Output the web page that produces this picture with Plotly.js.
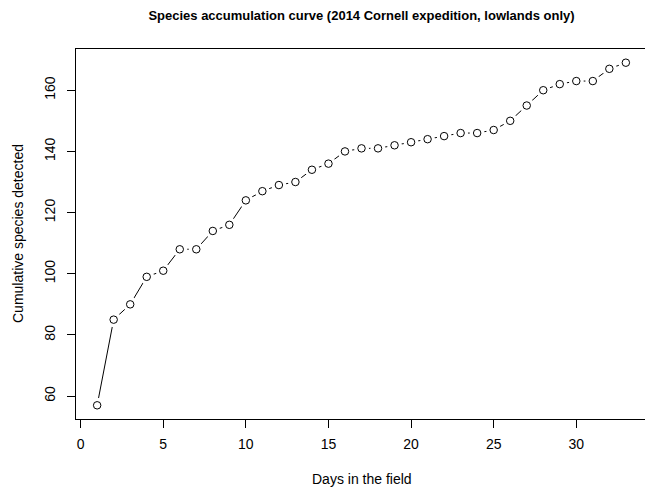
<!DOCTYPE html>
<html>
<head>
<meta charset="utf-8">
<script src="https://cdn.plot.ly/plotly-3.0.1.min.js"></script>
<style>
html,body{margin:0;padding:0;overflow:hidden;background:#fff;width:645px;height:488px;}
#chart{width:660px;height:488px;}
</style>
</head>
<body>
<div id="chart"></div>
<script>
const days = [1,2,3,4,5,6,7,8,9,10,11,12,13,14,15,16,17,18,19,20,21,22,23,24,25,26,27,28,29,30,31,32,33];
const species = [57,85,90,99,101,108,108,114,116,124,127,129,130,134,136,140,141,141,142,143,144,145,146,146,147,150,155,160,162,163,163,167,169];
const xTicks = [0,5,10,15,20,25,30];
const yTicks = [60,80,100,120,140,160];

const FONT = "Liberation Sans, Arial, Helvetica, sans-serif";

const traces = [
  {x: days, y: species, mode: 'lines', line: {color: '#000', width: 1}, hoverinfo: 'skip', cliponaxis: false},
  {x: days, y: species, mode: 'markers', marker: {symbol: 'circle', size: 15, color: '#fff', line: {width: 0}}, hoverinfo: 'skip', cliponaxis: false},
  {x: days, y: species, mode: 'markers', marker: {symbol: 'circle-open', size: 7.5, color: '#000', line: {width: 1, color: '#000'}}, cliponaxis: false}
];

const layout = {
  width: 660, height: 488,
  margin: {l: 76, r: 13, t: 49, b: 69, pad: 0},
  paper_bgcolor: '#fff', plot_bgcolor: '#fff',
  showlegend: false,
  font: {family: FONT, color: '#000', size: 13},
  title: {text: 'Species accumulation curve (2014 Cornell expedition, lowlands only)',
          font: {family: FONT, size: 13, weight: 'bold', color: '#000'},
          xref: 'paper', x: 0.5, xanchor: 'center', yref: 'container', y: 1 - 15/488, yanchor: 'middle'},
  xaxis: {
    range: [-0.28, 34.28], tickvals: xTicks, ticktext: xTicks.map(String),
    showgrid: false, zeroline: false, showline: true, mirror: true, linecolor: '#000', linewidth: 1,
    ticks: 'outside', ticklen: 8, tickwidth: 1, tickcolor: '#000',
    tickfont: {family: FONT, size: 14, color: '#000'}, ticklabelstandoff: 4
  },
  yaxis: {
    range: [52.52, 173.48], tickvals: yTicks, ticktext: yTicks.map(String),
    showgrid: false, zeroline: false, showline: true, mirror: true, linecolor: '#000', linewidth: 1,
    ticks: 'outside', ticklen: 8, tickwidth: 1, tickcolor: '#000', tickangle: -90,
    tickfont: {family: FONT, size: 14, color: '#000'}, ticklabelstandoff: 6
  },
  annotations: [
    {text: 'Days in the field', xref: 'paper', yref: 'paper', x: 0.5, y: 0, xanchor: 'center', yanchor: 'middle',
     yshift: -60, showarrow: false, font: {family: FONT, size: 14, color: '#000'}},
    {text: 'Cumulative species detected', xref: 'paper', yref: 'paper', x: 0, y: 0.5, xanchor: 'center', yanchor: 'middle',
     xshift: -58, textangle: -90, showarrow: false, font: {family: FONT, size: 14, color: '#000'}}
  ]
};

Plotly.newPlot('chart', traces, layout, {displayModeBar: false, staticPlot: true});
</script>
</body>
</html>
